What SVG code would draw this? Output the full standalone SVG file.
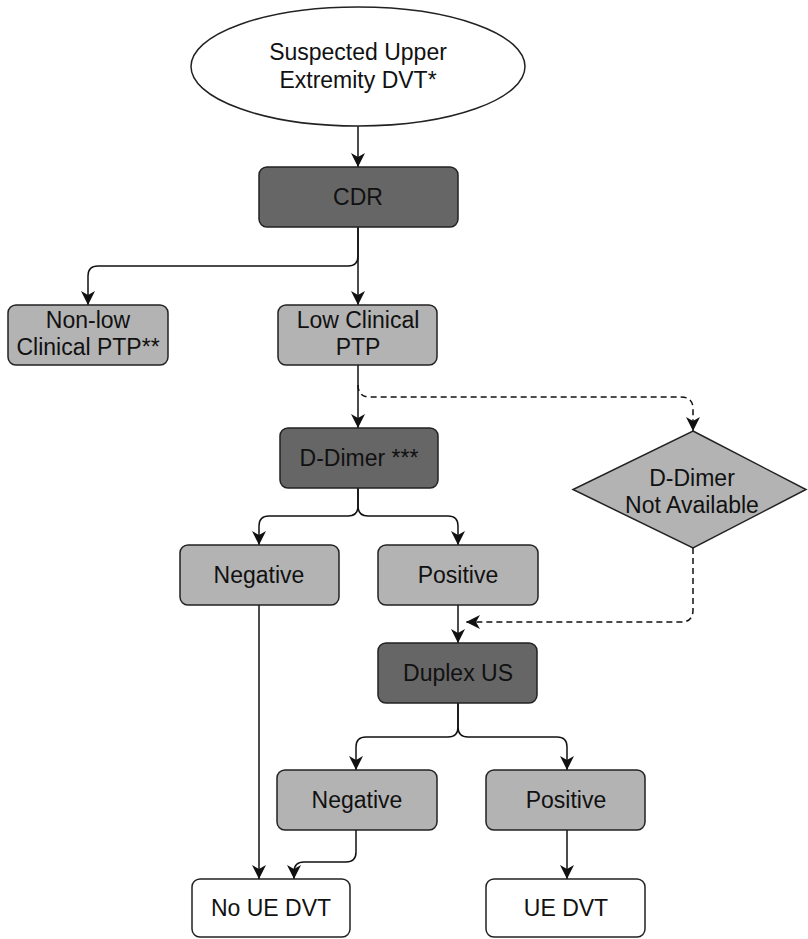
<svg xmlns="http://www.w3.org/2000/svg" width="808" height="939" viewBox="0 0 808 939">
<defs>
<style>
.t{font-family:"Liberation Sans",Arial,Helvetica,sans-serif;font-size:23px;fill:#111;text-anchor:middle}
.dark{fill:#666666;stroke:#222;stroke-width:1.5}
.light{fill:#b3b3b3;stroke:#222;stroke-width:1.5}
.white{fill:#ffffff;stroke:#222;stroke-width:1.5}
.e{fill:none;stroke:#111;stroke-width:1.5}
.d{fill:none;stroke:#111;stroke-width:1.5;stroke-dasharray:6 4}
</style>
<marker id="arr" markerUnits="userSpaceOnUse" markerWidth="14" markerHeight="14" viewBox="0 0 14 14" refX="14" refY="7" orient="auto">
<path d="M0,0 L14,7 L0,14 L4,7 z" fill="#111"/>
</marker>
</defs>
<rect width="808" height="939" fill="#ffffff"/>
<g id="connectors">
<path class="e" d="M358,126 L358,167" marker-end="url(#arr)"/>
<path class="e" d="M358,227 L358,256 Q358,266 348,266 L98,266 Q88,266 88,276 L88,305" marker-end="url(#arr)"/>
<path class="e" d="M358,227 L358,305" marker-end="url(#arr)"/>
<path class="e" d="M358,365 L358,428" marker-end="url(#arr)"/>
<path class="d" d="M358,385 Q358,397 370,397 L681,397 Q693,397 693,409 L693,431" marker-end="url(#arr)"/>
<path class="e" d="M358,488 L358,506 Q358,516 348,516 L269,516 Q259,516 259,526 L259,545" marker-end="url(#arr)"/>
<path class="e" d="M358,488 L358,506 Q358,516 368,516 L448,516 Q458,516 458,526 L458,545" marker-end="url(#arr)"/>
<path class="e" d="M458,605 L458,643" marker-end="url(#arr)"/>
<path class="d" d="M693,548 L693,610 Q693,622 681,622 L466,622" marker-end="url(#arr)"/>
<path class="e" d="M458,703 L458,727 Q458,737 448,737 L366,737 Q356,737 356,747 L356,770" marker-end="url(#arr)"/>
<path class="e" d="M458,703 L458,727 Q458,737 468,737 L557,737 Q567,737 567,747 L567,770" marker-end="url(#arr)"/>
<path class="e" d="M259,605 L259,879" marker-end="url(#arr)"/>
<path class="e" d="M356,830 L356,852 Q356,862 346,862 L304,862 Q294,862 294,872 L294,879" marker-end="url(#arr)"/>
<path class="e" d="M567,830 L567,879" marker-end="url(#arr)"/>
</g>
<g id="start">
<ellipse cx="358" cy="66.5" rx="167" ry="59.5" class="white"/>
<text class="t" x="358" y="60">Suspected Upper</text>
<text class="t" x="358" y="88">Extremity DVT*</text>
</g>
<g id="cdr">
<rect x="259" y="167" width="199" height="60" rx="8" class="dark"/>
<text class="t" x="358" y="205">CDR</text>
</g>
<g id="nonlow">
<rect x="8" y="305" width="160" height="60" rx="8" class="light"/>
<text class="t" x="88" y="328">Non-low</text>
<text class="t" x="88" y="355">Clinical PTP**</text>
</g>
<g id="low">
<rect x="278" y="305" width="159" height="60" rx="8" class="light"/>
<text class="t" x="358" y="328">Low Clinical</text>
<text class="t" x="358" y="355">PTP</text>
</g>
<g id="ddimer">
<rect x="280" y="428" width="158" height="60" rx="8" class="dark"/>
<text class="t" x="359" y="466">D-Dimer ***</text>
</g>
<g id="notavail">
<polygon points="693,431 806,489.5 693,548 573,489.5" class="light"/>
<text class="t" x="692" y="486">D-Dimer</text>
<text class="t" x="692" y="513">Not Available</text>
</g>
<g id="neg1">
<rect x="180" y="545" width="159" height="60" rx="8" class="light"/>
<text class="t" x="259" y="583">Negative</text>
</g>
<g id="pos1">
<rect x="378" y="545" width="160" height="60" rx="8" class="light"/>
<text class="t" x="458" y="583">Positive</text>
</g>
<g id="duplex">
<rect x="378" y="643" width="159" height="60" rx="8" class="dark"/>
<text class="t" x="458" y="681">Duplex US</text>
</g>
<g id="neg2">
<rect x="277" y="770" width="160" height="60" rx="8" class="light"/>
<text class="t" x="357" y="808">Negative</text>
</g>
<g id="pos2">
<rect x="486" y="770" width="159" height="60" rx="8" class="light"/>
<text class="t" x="566" y="808">Positive</text>
</g>
<g id="noue">
<rect x="192" y="879" width="158" height="58" rx="8" class="white"/>
<text class="t" x="271" y="916">No UE DVT</text>
</g>
<g id="ue">
<rect x="486" y="879" width="159" height="58" rx="8" class="white"/>
<text class="t" x="566" y="916">UE DVT</text>
</g>
</svg>
